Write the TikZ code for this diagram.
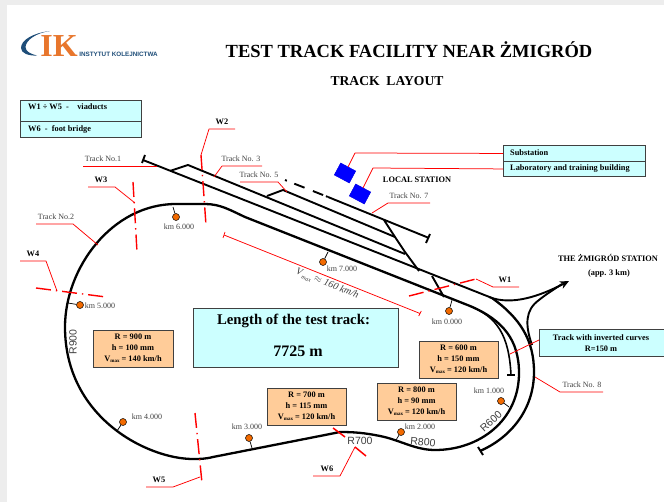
\documentclass[tikz,border=0pt]{standalone}
\usepackage{fontspec}
\setmainfont{Liberation Serif}
\newfontfamily\lsans{Liberation Sans}
\usetikzlibrary{arrows.meta,calc}
\newcommand\fsz[2]{\fontsize{#1}{#2}\selectfont}
\newcommand\vmaxtxt{V\raisebox{-1.2pt}{\fsz{5}{5}max}}
\definecolor{cyanbox}{HTML}{CCFFFF}
\definecolor{orangebox}{HTML}{FFCC99}
\definecolor{kmorange}{HTML}{F26A00}
\definecolor{logoblue}{HTML}{1F4E79}
\definecolor{logoorange}{HTML}{E8762C}
\definecolor{sqblue}{HTML}{0000FF}
\definecolor{labgray}{HTML}{404040}
\tikzset{
 x=1pt,y=-1pt,
 track/.style={draw=black,line width=1.9pt,line join=round},
 mainline/.style={draw=black,line width=2.3pt,line join=round},
 leader/.style={draw=red,line width=.75pt,line join=round},
 axisline/.style={draw=red,line width=1.4pt,dash pattern=on 15pt off 5pt on 1.3pt off 5pt},
 lab/.style={text=labgray,font=\fsz{8}{9},inner sep=0pt},
 bold/.style={text=black,font=\bfseries\fsz{8.35}{11},inner sep=0pt,align=center},
 cbox/.style={draw=black!75,fill=cyanbox,line width=.9pt,inner sep=0pt},
 obox/.style={draw=black!75,fill=orangebox,line width=.9pt,inner sep=0pt,align=center,font=\bfseries\fsz{8.35}{10.8},text=black},
 kmdot/.style={circle,draw=black,fill=kmorange,line width=.5pt,minimum size=7pt,inner sep=0pt},
 stem/.style={draw=black,line width=.7pt},
 rlab/.style={text=labgray,font=\lsans\fsz{10.5}{10.5},inner sep=0pt},
 bld/.style={draw=black!10!sqblue,fill=sqblue,line width=.5pt,minimum width=17pt,minimum height=13.5pt,inner sep=0pt,rotate=-28},
}
\begin{document}
\begin{tikzpicture}
\useasboundingbox (0,0) rectangle (664,502);
\fill[black!7] (0,0) rectangle (664,502);
\fill[white] (7,5) rectangle (664,502);
% logo
\fill[logoblue] (50,31) .. controls (33,33) and (21,40) .. (21,48) .. controls (21,53) and (28,56) .. (37,55.5)
  .. controls (30,54) and (25.5,51) .. (25.5,47) .. controls (26,40) and (36,33) .. (50,31) -- cycle;
\node[inner sep=0pt,text=logoorange,font=\bfseries\fsz{32}{32}] (logoik) at (59,46.5) {IK};
\node[inner sep=0pt,text=logoblue,font=\lsans\bfseries\fsz{6.3}{7}] (logotxt) at (118.5,54.5) {INSTYTUT KOLEJNICTWA};
% titles
\node[bold,font=\bfseries\fsz{18.5}{20}] (title) at (409,50) {TEST TRACK FACILITY NEAR ŻMIGRÓD};
\node[bold,font=\bfseries\fsz{13.6}{16}] (sub) at (387,81) {TRACK\ \ LAYOUT};
% legend
\node[cbox,minimum width=121pt,minimum height=21pt,anchor=north west] (leg1) at (20,100) {};
\node[cbox,minimum width=121pt,minimum height=16pt,anchor=north west] (leg2) at (20,121) {};
\node[bold,anchor=west] (leg1t) at (28,106.5) {W1 ÷ W5\ \ -\ \ \ \ viaducts};
\node[bold,anchor=west] (leg2t) at (28,129.5) {W6\ \ -\ \ foot bridge};
% buildings box
\node[cbox,minimum width=142pt,minimum height=16pt,anchor=north west] (subst) at (503,145) {};
\node[cbox,minimum width=142pt,minimum height=15pt,anchor=north west] (labb) at (503,161) {};
\node[bold,anchor=west] (substt) at (510,152.5) {Substation};
\node[bold,anchor=west] (labbt) at (510,168.5) {Laboratory and training building};
\node[bld] (sq1) at (345,173) {};
\node[bld] (sq2) at (360,194) {};
\draw[leader] (subst.west) -- (355,153) -- (sq1);
\draw[leader] (labb.west) -- (373,168) -- (sq2);
\node[bold] (local) at (417,180) {LOCAL STATION};
\node[bold] (zmig) at (608,258) {THE ŻMIGRÓD STATION};
\node[bold] (app) at (609,273) {(app. 3 km)};
% dimension line
\coordinate (dimA) at (224,235);
\coordinate (dimB) at (420,313.5);
\draw[leader] (dimA) -- (dimB);
\draw[leader] (225,232) -- (223,238);
\draw[leader] (421.3,311) -- (418.7,316);
\node[inner sep=0pt,text=labgray,rotate=-22,font=\itshape\fsz{10}{10}] (vmax) at (327,284) {V\raisebox{-3pt}{\fsz{6}{6}\,max} $\approx$ 160 km/h};
% tracks
\draw[track] (143,160) -- (492,298);
\draw[track] (145,155) -- (142,163);
\draw[track] (170,171) -- (188,165) -- (405,254);
\draw[track] (267,196) -- (283,190) -- (395,237);
\draw[track,dash pattern=on 2pt off 8pt on 11pt off 9pt on 11pt off 3pt] (285,180) -- (328,197);
\draw[track] (328,197) -- (429,238);
\draw[track] (430,234) -- (426,243);
\draw[track] (384,220) -- (395,237) -- (405,252) -- (419,271);
\draw[track] (432,276) -- (444,297);
% inner siding
\draw[track,line width=1.6pt] (470,306) .. controls (497,317) and (509,335) .. (511,375);
\draw[track] (507,375) -- (515,375);
% main loop
\draw[mainline] (176,204) -- (205,204) .. controls (220,204) and (230,210) .. (245,217)
 -- (470,306) .. controls (503,320) and (519,340) .. (519,373)
 .. controls (519,420) and (480,450) .. (435,450)
 .. controls (415,450) and (400,440) .. (380,436)
 .. controls (365,433) and (355,432) .. (340,432)
 -- (325,435) -- (213,457) .. controls (205,459) and (200,459) .. (193,459)
 .. controls (148,459) and (65,418) .. (65,327)
 .. controls (65,268) and (112,204) .. (176,204);
% track 8
\draw[mainline] (492,298) .. controls (520,318) and (534,340) .. (534,372)
 .. controls (534,410) and (510,438) .. (480,451);
\draw[track] (478,447) -- (483,455);
% to the station
\coordinate (arrowtip) at (569,281);
\draw[track,-{Stealth[length=9pt,width=8pt]}] (489,297) .. controls (512,306) and (540,296) .. (arrowtip);
\draw[mainline,line width=1.9pt] (532,345) .. controls (525,325) and (525,310) .. (539,300) .. controls (545,295) and (553,290) .. (562,284);
% axes
\draw[axisline] (409,296) -- (476,279);
\draw[axisline] (201,155) -- (206,225);
\draw[axisline] (133,182) -- (137,252);
\draw[axisline] (36,288) -- (106,297);
\draw[axisline] (195,413) -- (202,483);
\draw[red,line width=1.5pt] (333,428) -- (345,437);
\draw[red,line width=1.5pt] (355,447) -- (366,456);
% leaders + W labels
\draw[leader] (476,279) -- (493,287) -- (519,287);
\draw[leader] (235,129) -- (209,129) -- (201,155);
\draw[leader] (88,187) -- (115,187) -- (135,203);
\draw[leader] (20,261) -- (46,261) -- (57,291);
\draw[leader] (146,487) -- (173,487) -- (200,477);
\draw[leader] (313,476) -- (340,476) -- (355,447);
\node[bold] (w1) at (505,280) {W1};
\node[bold] (w2) at (222,122) {W2};
\node[bold] (w3) at (101,180) {W3};
\node[bold] (w4) at (33,254) {W4};
\node[bold] (w5) at (159,480) {W5};
\node[bold] (w6) at (327,469) {W6};
% track labels
\node[lab] (t1) at (103,159) {Track No.1};
\node[lab] (t2) at (56,217) {Track No.2};
\node[lab] (t3) at (241,159) {Track No. 3};
\node[lab] (t5) at (259,175) {Track No. 5};
\node[lab] (t7) at (409,196) {Track No. 7};
\node[lab] (t8) at (582,385) {Track No. 8};
\draw[leader] (83,166) -- (157,166);
\draw[leader] (36,224) -- (73,224) -- (98,245);
\draw[leader] (262,166) -- (222,166) -- (214,177);
\draw[leader] (240,182) -- (278,182) -- (287,192);
\draw[leader] (430,203) -- (388,203) -- (372,213);
\draw[leader] (603,392) -- (560,392) -- (535,377);
% info boxes
\node[cbox,minimum width=205pt,minimum height=59pt,anchor=north west] (len) at (193,308) {};
\node[bold,font=\bfseries\fsz{14.8}{16}] (lent) at (293.5,321) {Length of the test track:};
\node[bold,font=\bfseries\fsz{16}{18}] (lenv) at (298,351) {7725 m};
\node[obox,minimum width=80pt,minimum height=37pt] (r900) at (133,348.5) {R = 900 m\\h = 100 mm\\\vmaxtxt{} = 140 km/h};
\node[obox,minimum width=79pt,minimum height=37pt] (r700) at (306.5,406.5) {R = 700 m\\h = 115 mm\\\vmaxtxt{} = 120 km/h};
\node[obox,minimum width=79pt,minimum height=37pt] (r800) at (416.5,401.5) {R = 800 m\\h = 90 mm\\\vmaxtxt{} = 120 km/h};
\node[obox,minimum width=79pt,minimum height=37pt] (r600) at (458.5,359.5) {R = 600 m\\h = 150 mm\\\vmaxtxt{} = 120 km/h};
\node[cbox,minimum width=125pt,minimum height=27pt,anchor=north west] (inv) at (539,329) {};
\node[bold] (invt) at (601,343) {Track with inverted curves\\R=150 m};
\draw[leader] (539,340) -- (510,354);
% km posts
\node[kmdot] (k6) at (176,217) {};
\node[kmdot] (k7) at (323,262) {};
\node[kmdot] (k0) at (449,311) {};
\node[kmdot] (k1) at (501,401) {};
\node[kmdot] (k2) at (401,432) {};
\node[kmdot] (k3) at (249,438) {};
\node[kmdot] (k4) at (123,422) {};
\node[kmdot] (k5) at (80,305) {};
\draw[stem] (k6) -- (173,207);
\draw[stem] (k7) -- (328,252);
\draw[stem] (k0) -- (452,300);
\draw[stem] (k1) -- (509,407);
\draw[stem] (k2) -- (396,440);
\draw[stem] (k3) -- (252,448);
\draw[stem] (k4) -- (117,431);
\draw[stem] (k5) -- (68,303);
\node[lab] (k6t) at (179,227) {km 6.000};
\node[lab] (k7t) at (342,269) {km 7.000};
\node[lab] (k0t) at (447,322) {km 0.000};
\node[lab] (k1t) at (489,391) {km 1.000};
\node[lab] (k2t) at (420,427) {km 2.000};
\node[lab] (k3t) at (247,427) {km 3.000};
\node[lab] (k4t) at (147,417) {km 4.000};
\node[lab] (k5t) at (100,306) {km 5.000};
% radii
\node[rlab,rotate=90] (r900t) at (73,342) {R900};
\node[rlab] (r700t) at (360,441) {R700};
\node[rlab,rotate=-5] (r800t) at (423,442) {R800};
\node[rlab,rotate=42] (r600t) at (491,421) {R600};
\end{tikzpicture}
\end{document}
